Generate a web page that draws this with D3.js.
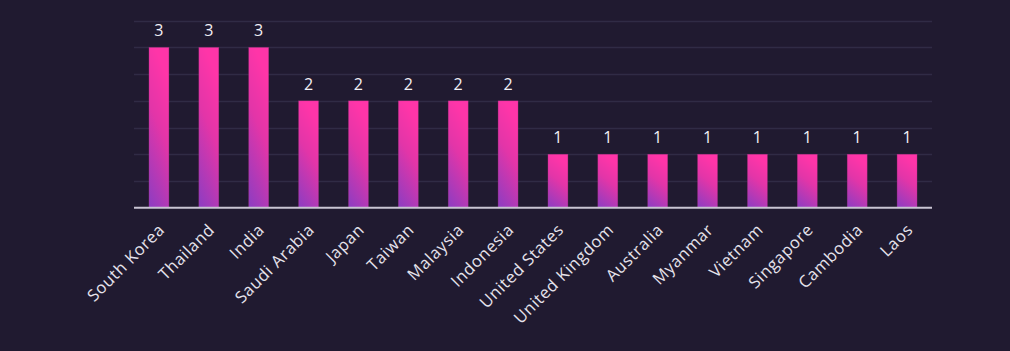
<!DOCTYPE html>
<html>
<head>
<meta charset="utf-8">
<script src="https://cdn.jsdelivr.net/npm/d3@7"></script>
<style>
  html, body { margin: 0; padding: 0; background: #201a30; }
  svg { display: block; }
  .allText { font-family: "Open Sans", "DejaVu Sans", sans-serif; }
</style>
</head>
<body>
<svg id="chart"></svg>
<script>
var countries = ["South Korea", "Thailand", "India", "Saudi Arabia", "Japan", "Taiwan", "Malaysia",
  "Indonesia", "United States", "United Kingdom", "Australia", "Myanmar", "Vietnam", "Singapore",
  "Cambodia", "Laos"];
var counts = [3, 3, 3, 2, 2, 2, 2, 2, 1, 1, 1, 1, 1, 1, 1, 1];
var gridTicks = [0.5, 1, 1.5, 2, 2.5, 3, 3.5];

var chartWidth = 1010, chartHeight = 351;
var plotLeft = 134, plotRight = 932, plotTop = 20.7, plotBottom = 207.7;

var svg = d3.select("#chart")
    .attr("width", chartWidth)
    .attr("height", chartHeight);

svg.append("rect")
    .attr("width", chartWidth)
    .attr("height", chartHeight)
    .attr("fill", "#201a30");

var xScale = d3.scaleBand()
    .domain(countries)
    .range([plotLeft, plotRight])
    .paddingInner(0.6)
    .paddingOuter(0.3);

var yScale = d3.scaleLinear()
    .domain([0, 3.5])
    .range([plotBottom, plotTop]);

var grad = svg.append("defs")
    .append("linearGradient")
    .attr("id", "barGrad")
    .attr("x1", "0%").attr("y1", "100%")
    .attr("x2", "30%").attr("y2", "0%");
grad.append("stop").attr("offset", "0%").style("stop-color", "#8b3dc2");
grad.append("stop").attr("offset", "60%").style("stop-color", "#e235a8");
grad.append("stop").attr("offset", "100%").style("stop-color", "#ff35a8");

// gridlines
svg.append("g")
    .selectAll("line")
    .data(gridTicks)
    .enter().append("line")
    .attr("x1", plotLeft)
    .attr("x2", plotRight)
    .attr("y1", function (d) { return Math.round(yScale(d)) + 0.5; })
    .attr("y2", function (d) { return Math.round(yScale(d)) + 0.5; })
    .attr("stroke", "#302b45")
    .attr("stroke-width", 1.5);

svg.append("g")
    .selectAll("rect")
    .data(counts)
    .enter().append("rect")
    .attr("x", function (d, i) { return xScale(countries[i]); })
    .attr("y", function (d) { return yScale(d); })
    .attr("width", xScale.bandwidth())
    .attr("height", function (d) { return plotBottom - yScale(d); })
    .attr("fill", "url(#barGrad)")
    .attr("stroke", "#a8307f")
    .attr("stroke-opacity", 0.5)
    .attr("stroke-width", 0.6);

svg.append("g")
    .selectAll("text")
    .data(counts)
    .enter().append("text")
    .attr("class", "allText")
    .attr("x", function (d, i) { return xScale(countries[i]) + xScale.bandwidth() / 2; })
    .attr("y", function (d) { return yScale(d) - 11; })
    .attr("text-anchor", "middle")
    .attr("fill", "#f2f0f6")
    .style("font-size", "16px")
    .text(function (d) { return d; });

// x axis
var xAxis = svg.append("g")
    .attr("transform", "translate(0," + plotBottom + ")")
    .call(d3.axisBottom(xScale).tickSize(0).tickPadding(8));

xAxis.select(".domain")
    .attr("d", "M" + plotLeft + ",0H" + plotRight)
    .attr("stroke", "#c9c5d3")
    .attr("stroke-width", 2);

xAxis.selectAll("text")
    .attr("class", "allText")
    .attr("fill", "#e6e3ec")
    .style("font-size", "16.5px")
    .style("letter-spacing", "0.6px")
    .attr("text-anchor", "end")
    .attr("dx", "-0.7em")
    .attr("dy", "0.8em")
    .attr("transform", "rotate(-45)");
</script>
</body>
</html>
